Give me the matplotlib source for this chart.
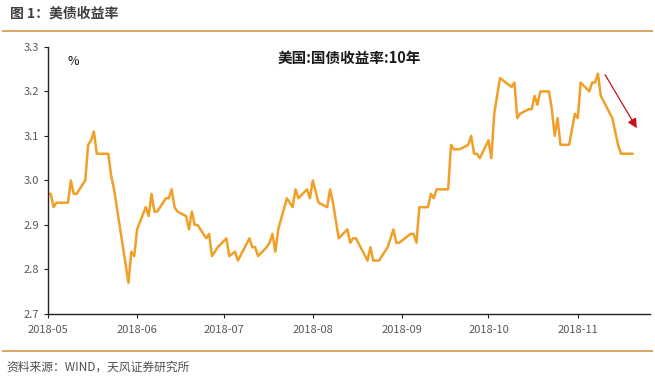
import matplotlib
matplotlib.use("Agg")
from matplotlib import pyplot as plt
import pandas as pd

plt.rcParams['font.family'] = ['Noto Sans CJK SC', 'DejaVu Sans']

# 美国10年期国债收益率 (%)
dates = [
    '2018-05-01', '2018-05-02', '2018-05-03', '2018-05-04', '2018-05-08', '2018-05-09',
    '2018-05-10', '2018-05-11', '2018-05-14', '2018-05-15', '2018-05-16', '2018-05-17',
    '2018-05-18', '2018-05-22', '2018-05-23', '2018-05-24', '2018-05-29', '2018-05-30',
    '2018-05-31', '2018-06-01', '2018-06-04', '2018-06-05', '2018-06-06', '2018-06-07',
    '2018-06-08', '2018-06-11', '2018-06-12', '2018-06-13', '2018-06-14', '2018-06-15',
    '2018-06-18', '2018-06-19', '2018-06-20', '2018-06-21', '2018-06-22', '2018-06-25',
    '2018-06-26', '2018-06-27', '2018-06-29', '2018-07-02', '2018-07-03', '2018-07-05',
    '2018-07-06', '2018-07-10', '2018-07-11', '2018-07-12', '2018-07-13', '2018-07-16',
    '2018-07-17', '2018-07-18', '2018-07-19', '2018-07-20', '2018-07-23', '2018-07-25',
    '2018-07-26', '2018-07-27', '2018-07-30', '2018-07-31', '2018-08-01', '2018-08-03',
    '2018-08-06', '2018-08-07', '2018-08-08', '2018-08-10', '2018-08-13', '2018-08-14',
    '2018-08-15', '2018-08-16', '2018-08-20', '2018-08-21', '2018-08-22', '2018-08-24',
    '2018-08-27', '2018-08-29', '2018-08-30', '2018-08-31', '2018-09-04', '2018-09-05',
    '2018-09-06', '2018-09-07', '2018-09-10', '2018-09-11', '2018-09-12', '2018-09-13',
    '2018-09-17', '2018-09-18', '2018-09-19', '2018-09-21', '2018-09-24', '2018-09-25',
    '2018-09-26', '2018-09-27', '2018-09-28', '2018-10-01', '2018-10-02', '2018-10-03',
    '2018-10-05', '2018-10-09', '2018-10-10', '2018-10-11', '2018-10-12', '2018-10-15',
    '2018-10-16', '2018-10-17', '2018-10-18', '2018-10-19', '2018-10-22', '2018-10-23',
    '2018-10-24', '2018-10-25', '2018-10-26', '2018-10-29', '2018-10-31', '2018-11-01',
    '2018-11-02', '2018-11-05', '2018-11-06', '2018-11-07', '2018-11-08', '2018-11-09',
    '2018-11-13', '2018-11-14', '2018-11-15', '2018-11-16', '2018-11-19', '2018-11-20',
]
yields = [
    2.97, 2.97, 2.94, 2.95, 2.95, 3.00,
    2.97, 2.97, 3.00, 3.08, 3.09, 3.11,
    3.06, 3.06, 3.01, 2.98, 2.77, 2.84,
    2.83, 2.89, 2.94, 2.92, 2.97, 2.93,
    2.93, 2.96, 2.96, 2.98, 2.94, 2.93,
    2.92, 2.89, 2.93, 2.90, 2.90, 2.87,
    2.88, 2.83, 2.85, 2.87, 2.83, 2.84,
    2.82, 2.87, 2.85, 2.85, 2.83, 2.85,
    2.86, 2.88, 2.84, 2.89, 2.96, 2.94,
    2.98, 2.96, 2.98, 2.96, 3.00, 2.95,
    2.94, 2.98, 2.95, 2.87, 2.89, 2.86,
    2.87, 2.87, 2.82, 2.85, 2.82, 2.82,
    2.85, 2.89, 2.86, 2.86, 2.88, 2.88,
    2.86, 2.94, 2.94, 2.97, 2.96, 2.98,
    2.98, 3.08, 3.07, 3.07, 3.08, 3.10,
    3.06, 3.06, 3.05, 3.09, 3.05, 3.15,
    3.23, 3.21, 3.22, 3.14, 3.15, 3.16,
    3.16, 3.19, 3.17, 3.20, 3.20, 3.16,
    3.10, 3.14, 3.08, 3.08, 3.15, 3.14,
    3.22, 3.20, 3.22, 3.22, 3.24, 3.19,
    3.14, 3.11, 3.08, 3.06, 3.06, 3.06,
]
month_ticks = ['2018-05', '2018-06', '2018-07', '2018-08', '2018-09', '2018-10', '2018-11']
y_ticks = [2.7, 2.8, 2.9, 3.0, 3.1, 3.2, 3.3]

x = pd.to_datetime(dates)

fig = plt.figure(figsize=(6.55, 3.91), dpi=100)
ax = fig.add_axes([0.073, 0.197, 0.919, 0.683])

ax.plot(x, yields, color='#f0a028', linewidth=1.8)

ax.set_ylim(2.7, 3.3)
ax.set_yticks(y_ticks)
ax.set_yticklabels(['%.1f' % v for v in y_ticks])
ax.set_xlim(pd.Timestamp('2018-05-01'), pd.Timestamp('2018-11-26'))
ax.set_xticks(pd.to_datetime(month_ticks))
ax.set_xticklabels(month_ticks)

for s in ['top', 'right']:
    ax.spines[s].set_visible(False)
for s in ['left', 'bottom']:
    ax.spines[s].set_color('#222222')
    ax.spines[s].set_linewidth(1.0)
ax.tick_params(axis='both', labelsize=8, colors='#222222', labelcolor='#595959', length=3)
ax.tick_params(axis='x', pad=5)

ax.text(0.5, 0.96, '美国:国债收益率:10年', transform=ax.transAxes, ha='center', va='center',
        fontsize=10.5, fontweight='bold', color='#1a1a1a')
ax.text(0.042, 0.945, '%', transform=ax.transAxes, ha='center', va='center',
        fontsize=9, color='#111111')

# red arrow showing the recent decline
ax.annotate('', xy=(pd.Timestamp('2018-11-22'), 3.112), xytext=(pd.Timestamp('2018-11-10'), 3.243),
            arrowprops=dict(arrowstyle='-|>', color='#c8101a', lw=0.9, mutation_scale=14))

# header and footer
fig.text(0.015, 0.966, '图 1：美债收益率', ha='left', va='center', fontsize=10,
         fontweight='bold', color='#404040')
fig.add_artist(plt.Line2D([0.005, 0.995], [0.921, 0.921], color='#d8a76c', linewidth=1.5))
fig.add_artist(plt.Line2D([0.005, 0.995], [0.102, 0.102], color='#d8a76c', linewidth=1.5))
fig.text(0.01, 0.061, '资料来源：WIND，天风证券研究所', ha='left', va='center', fontsize=8.5,
         color='#505050')

fig.savefig('out.png', dpi=100)
